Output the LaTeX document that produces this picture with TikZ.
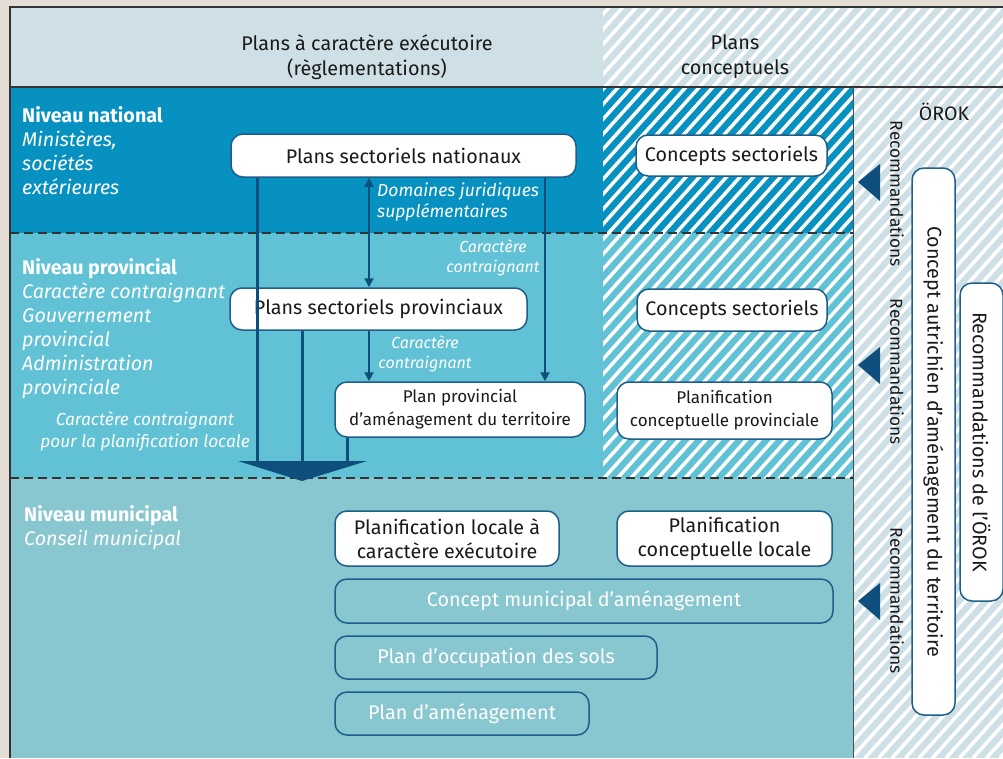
\documentclass[tikz,border=0pt]{standalone}
\usepackage{fontspec}
\setmainfont{Fira Sans}
\usetikzlibrary{arrows.meta}
\definecolor{bgout}{HTML}{E3DDD6}
\definecolor{hdr}{HTML}{CEE0E5}
\definecolor{natc}{HTML}{0691C1}
\definecolor{provc}{HTML}{61C2D5}
\definecolor{munc}{HTML}{88C7D0}
\definecolor{navy}{HTML}{0E4F7D}
\definecolor{bord}{HTML}{1E5E88}
\definecolor{txt}{HTML}{1A1A1A}
\newcommand\myfs[2]{\fontsize{#1}{#2}\selectfont}
\tikzset{
 box/.style={draw=bord, line width=1.5pt, fill=white, rounded corners=12pt, text=txt, font=\myfs{19.7}{24}, align=center, inner sep=0pt},
 obox/.style={draw=bord, line width=1.5pt, rounded corners=12pt, text=white, font=\myfs{19.7}{24}, align=center, inner sep=0pt},
 conn/.style={navy, line width=2pt},
 thick conn/.style={navy, line width=3pt},
 tip/.style={-{Triangle[length=9pt,width=9pt]}},
 lvl/.style={text=white, font=\myfs{19.7}{24}, align=left, inner sep=0pt, anchor=north west},
 lbl/.style={text=white, font=\itshape\myfs{16}{20}, inner sep=0pt},
 reco/.style={text=txt, font=\myfs{17.3}{20}, rotate=-90, inner sep=0pt},
 hdrtxt/.style={text=txt, font=\myfs{19.8}{25}, align=center, inner sep=0pt},
 sep/.style={dash pattern=on 9pt off 5pt, line width=1.5pt, black!80},
}
\begin{document}
\begin{tikzpicture}[x=1pt,y=-1pt]
\useasboundingbox (0,0) rectangle (1003,758);
% backgrounds
\fill[bgout] (0,0) rectangle (1003,758);
\fill[hdr] (10,7) rectangle (1003,87);
\fill[natc] (10,87) rectangle (853,233);
\fill[provc] (10,233) rectangle (853,478);
\fill[munc] (10,478) rectangle (853,758);
\fill[hdr] (853,87) rectangle (1003,758);
% hatching
\begin{scope}
\clip (603,7) rectangle (1003,478) (853,478) rectangle (1003,758);
\foreach \i in {0,...,82} \draw[white, line width=3.5pt] ({-80+\i*13.5},758) -- ++(676,-751);
\end{scope}
% frame lines
\draw[line width=1.5pt, black!80] (10,758) -- (10,7) -- (1003,7);
\draw[line width=1.5pt, black!80] (10,87) -- (1003,87);
\draw[line width=1pt, black!70] (853,87) -- (853,758);
\draw[sep] (10,233) -- (853,233);
\draw[sep] (10,478) -- (853,478);
% header
\node[hdrtxt] (h1) at (367,57) {Plans à caractère exécutoire\\(règlementations)};
\node[hdrtxt] (h2) at (735,57) {Plans\\conceptuels};
% level labels
\node[lvl] (lnat) at (22,106) {\textbf{Niveau national}\\\textit{Ministères,}\\\textit{sociétés}\\\textit{extérieures}};
\node[lvl] (lprov) at (22,258) {\textbf{Niveau provincial}\\\textit{Caractère contraignant}\\\textit{Gouvernement}\\\textit{provincial}\\\textit{Administration}\\\textit{provinciale}};
\node[lvl] (lmun) at (24,505) {\textbf{Niveau municipal}\\\textit{Conseil municipal}};
% boxes
\node[box, minimum width=345pt, minimum height=43pt] (nat) at (403.5,155.5) {Plans sectoriels nationaux};
\node[box, minimum width=191pt, minimum height=41pt] (cs1) at (731.5,155.5) {Concepts sectoriels};
\node[box, minimum width=297pt, minimum height=42pt] (prv) at (378.5,309) {Plans sectoriels provinciaux};
\node[box, minimum width=190pt, minimum height=42pt] (cs2) at (732,310) {Concepts sectoriels};
\node[box, minimum width=250pt, minimum height=55pt, font=\myfs{17}{23}] (ppat) at (460,409.5) {Plan provincial\\d’aménagement du territoire};
\node[box, minimum width=215pt, minimum height=57pt, font=\myfs{17}{23}] (pcp) at (724.5,410.5) {Planification\\conceptuelle provinciale};
\node[box, minimum width=224pt, minimum height=55pt] (plce) at (447,538.5) {Planification locale à\\caractère exécutoire};
\node[box, minimum width=215pt, minimum height=55pt] (pcl) at (724.5,538.5) {Planification\\conceptuelle locale};
\node[obox, minimum width=498pt, minimum height=44pt] (cma) at (584,601) {Concept municipal d’aménagement};
\node[obox, minimum width=322pt, minimum height=43pt] (pos) at (496,657.5) {Plan d’occupation des sols};
\node[obox, minimum width=254pt, minimum height=43pt] (pam) at (462,713.5) {Plan d’aménagement};
\node[box, rotate=-90, minimum width=547pt, minimum height=43pt] (cadt) at (933.5,441.5) {Concept autrichien d’aménagement du territoire};
\node[box, rotate=-90, minimum width=318pt, minimum height=43pt] (rok) at (981.5,442) {Recommandations de l’ÖROK};
\node[text=txt, font=\myfs{19.5}{22}, inner sep=0pt] (orok) at (944,112) {ÖROK};
% recommandations
\node[reco] (r1) at (897,194) {Recommandations};
\node[reco] (r2) at (897,372) {Recommandations};
\node[reco] (r3) at (897,601) {Recommandations};
\fill[navy] (858,182) -- (880,164) -- (880,201) -- cycle;
\fill[navy] (858,365) -- (880,347) -- (880,384) -- cycle;
\fill[navy] (858,601) -- (880,583) -- (880,620) -- cycle;
% connectors
\coordinate (j1) at (257,462);
\coordinate (j2) at (302,462);
\coordinate (j3) at (347,462);
\coordinate (ca) at (369,0);
\coordinate (cb) at (545,0);
\draw[thick conn] (nat.south -| j1) -- (j1);
\draw[thick conn] (prv.south -| j2) -- (j2);
\draw[thick conn] (ppat.south -| j3) -- (j3);
\fill[navy] (238,461) -- (367,461) -- (302,481) -- cycle;
\draw[conn, {Triangle[length=9pt,width=9pt]}-{Triangle[length=9pt,width=9pt]}] (nat.south -| ca) -- (prv.north -| ca);
\draw[conn, tip] (nat.south -| cb) -- (ppat.north -| cb);
\draw[conn, tip] (prv.south -| ca) -- (ppat.north -| ca);
% small labels
\node[lbl, align=left, anchor=north west, font=\itshape\myfs{17.5}{21}] (ldj) at (377,183) {Domaines juridiques\\supplémentaires};
\node[lbl, align=center] (lc1) at (493,258) {Caractère\\contraignant};
\node[lbl, align=center] (lc2) at (425,354) {Caractère\\contraignant};
\node[lbl, align=center, font=\itshape\myfs{17.3}{22}] (lc3) at (145,431) {Caractère contraignant\\pour la planification locale};
\end{tikzpicture}
\end{document}
